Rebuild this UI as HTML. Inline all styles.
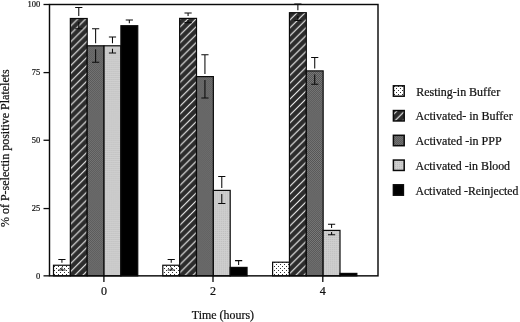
<!DOCTYPE html>
<html><head><meta charset="utf-8"><title>P-selectin positive platelets</title>
<style>
html,body{margin:0;padding:0;background:#fff;}
body{width:520px;height:322px;overflow:hidden;}
svg{display:block;}
text{font-family:"Liberation Serif","Times New Roman",serif;fill:#111;stroke:#111;stroke-width:0.22;}
</style></head><body>
<svg width="520" height="322" viewBox="0 0 520 322">
<defs>
<pattern id="dots" width="4" height="4" patternUnits="userSpaceOnUse" x="0" y="0">
<rect width="4" height="4" fill="#fff"/>
<rect x="0" y="0" width="1" height="1" fill="#333"/>
<rect x="2" y="2" width="1" height="1" fill="#333"/>
</pattern>
<pattern id="hatch0" width="7.92" height="7.92" patternUnits="userSpaceOnUse" x="0" y="1.7">
<rect width="7.92" height="7.92" fill="#2c2c2c"/>
<path d="M-1,1 L1,-1 M-1,8.92 L8.92,-1 M6.92,8.92 L8.92,6.92" stroke="#f4f4f4" stroke-width="1.1" fill="none"/>
</pattern>
<pattern id="hatch1" width="7.92" height="7.92" patternUnits="userSpaceOnUse" x="0" y="1.1">
<rect width="7.92" height="7.92" fill="#2c2c2c"/>
<path d="M-1,1 L1,-1 M-1,8.92 L8.92,-1 M6.92,8.92 L8.92,6.92" stroke="#f4f4f4" stroke-width="1.1" fill="none"/>
</pattern>
<pattern id="hatch2" width="7.92" height="7.92" patternUnits="userSpaceOnUse" x="0" y="1.0">
<rect width="7.92" height="7.92" fill="#2c2c2c"/>
<path d="M-1,1 L1,-1 M-1,8.92 L8.92,-1 M6.92,8.92 L8.92,6.92" stroke="#f4f4f4" stroke-width="1.1" fill="none"/>
</pattern>
<pattern id="hatchL" width="7.92" height="7.92" patternUnits="userSpaceOnUse" x="0" y="0.9">
<rect width="7.92" height="7.92" fill="#2c2c2c"/>
<path d="M-1,1 L1,-1 M-1,8.92 L8.92,-1 M6.92,8.92 L8.92,6.92" stroke="#f4f4f4" stroke-width="1.1" fill="none"/>
</pattern>
<pattern id="med" width="1.975" height="1.975" patternUnits="userSpaceOnUse">
<rect width="1.975" height="1.975" fill="#7c7c7c"/>
<rect width="0.9875" height="0.9875" fill="#525252"/>
<rect x="0.9875" y="0.9875" width="0.9875" height="0.9875" fill="#525252"/>
</pattern>
<pattern id="light" width="1.975" height="1.975" patternUnits="userSpaceOnUse">
<rect width="1.975" height="1.975" fill="#cfcfcf"/>
<rect width="0.9875" height="0.9875" fill="#bcbcbc"/>
</pattern>
</defs>
<rect width="520" height="322" fill="#fff"/>

<rect x="53.50" y="265.25" width="16.85" height="10.60" fill="url(#dots)" stroke="#0a0a0a" stroke-width="1.2"/>
<rect x="70.35" y="18.50" width="16.85" height="257.35" fill="url(#hatch0)" stroke="#0a0a0a" stroke-width="1.2"/>
<rect x="87.20" y="45.80" width="16.85" height="230.05" fill="url(#med)" stroke="#0a0a0a" stroke-width="1.2"/>
<rect x="104.05" y="45.80" width="16.85" height="230.05" fill="url(#light)" stroke="#0a0a0a" stroke-width="1.2"/>
<rect x="120.90" y="25.70" width="16.85" height="250.15" fill="#000" stroke="#0a0a0a" stroke-width="1.2"/>
<rect x="162.80" y="265.25" width="16.85" height="10.60" fill="url(#dots)" stroke="#0a0a0a" stroke-width="1.2"/>
<rect x="179.65" y="18.40" width="16.85" height="257.45" fill="url(#hatch1)" stroke="#0a0a0a" stroke-width="1.2"/>
<rect x="196.50" y="76.60" width="16.85" height="199.25" fill="url(#med)" stroke="#0a0a0a" stroke-width="1.2"/>
<rect x="213.35" y="190.40" width="16.85" height="85.45" fill="url(#light)" stroke="#0a0a0a" stroke-width="1.2"/>
<rect x="230.20" y="267.40" width="16.85" height="8.45" fill="#000" stroke="#0a0a0a" stroke-width="1.2"/>
<rect x="272.60" y="262.20" width="16.85" height="13.65" fill="url(#dots)" stroke="#0a0a0a" stroke-width="1.2"/>
<rect x="289.45" y="12.70" width="16.85" height="263.15" fill="url(#hatch2)" stroke="#0a0a0a" stroke-width="1.2"/>
<rect x="306.30" y="70.90" width="16.85" height="204.95" fill="url(#med)" stroke="#0a0a0a" stroke-width="1.2"/>
<rect x="323.15" y="230.40" width="16.85" height="45.45" fill="url(#light)" stroke="#0a0a0a" stroke-width="1.2"/>
<rect x="340.00" y="273.40" width="16.85" height="2.45" fill="#000" stroke="#0a0a0a" stroke-width="1.2"/>
<path d="M58.32,259.40 h7.2 M61.92,259.40 V262.75 M61.92,267.17 V270.00 M58.32,270.00 h7.2" stroke="#0a0a0a" stroke-width="1.05" fill="none"/>
<path d="M75.17,7.40 h7.2 M78.77,7.40 V16.00 M78.77,22.00 V28.80 M75.17,28.80 h7.2" stroke="#0a0a0a" stroke-width="1.05" fill="none"/>
<path d="M92.03,28.70 h7.2 M95.62,28.70 V43.30 M95.62,49.30 V62.30 M92.03,62.30 h7.2" stroke="#0a0a0a" stroke-width="1.05" fill="none"/>
<path d="M108.88,37.00 h7.2 M112.48,37.00 V43.30 M112.48,48.84 V53.00 M108.88,53.00 h7.2" stroke="#0a0a0a" stroke-width="1.05" fill="none"/>
<path d="M125.73,20.00 h7.2 M129.33,20.00 V23.20" stroke="#0a0a0a" stroke-width="1.05" fill="none"/>
<path d="M167.63,259.40 h7.2 M171.23,259.40 V262.75 M171.23,267.17 V270.00 M167.63,270.00 h7.2" stroke="#0a0a0a" stroke-width="1.05" fill="none"/>
<path d="M184.48,13.00 h7.2 M188.08,13.00 V15.90 M188.08,20.06 V22.60 M184.48,22.60 h7.2" stroke="#0a0a0a" stroke-width="1.05" fill="none"/>
<path d="M201.33,54.80 h7.2 M204.93,54.80 V74.10 M204.93,80.10 V97.90 M201.33,97.90 h7.2" stroke="#0a0a0a" stroke-width="1.05" fill="none"/>
<path d="M218.18,176.50 h7.2 M221.78,176.50 V187.90 M221.78,193.90 V203.40 M218.18,203.40 h7.2" stroke="#0a0a0a" stroke-width="1.05" fill="none"/>
<path d="M235.03,260.60 h7.2 M238.63,260.60 V264.90" stroke="#0a0a0a" stroke-width="1.05" fill="none"/>
<path d="M294.28,3.90 h7.2 M297.88,3.90 V10.20 M297.88,16.02 V20.50 M294.28,20.50 h7.2" stroke="#0a0a0a" stroke-width="1.05" fill="none"/>
<path d="M311.12,57.40 h7.2 M314.73,57.40 V68.40 M314.73,74.40 V84.30 M311.12,84.30 h7.2" stroke="#0a0a0a" stroke-width="1.05" fill="none"/>
<path d="M327.98,224.30 h7.2 M331.58,224.30 V227.90 M331.58,232.11 V234.70 M327.98,234.70 h7.2" stroke="#0a0a0a" stroke-width="1.05" fill="none"/>
<rect x="49.5" y="4.5" width="328.5" height="271.35" fill="none" stroke="#0a0a0a" stroke-width="1.45"/>
<path d="M43.5,275.85 H49.5" stroke="#0a0a0a" stroke-width="1.3"/>
<text x="36.05" y="278.65" font-size="9.2" textLength="4.25" lengthAdjust="spacingAndGlyphs">0</text>
<path d="M43.5,208.55 H49.5" stroke="#0a0a0a" stroke-width="1.3"/>
<text x="31.80" y="211.35" font-size="9.2" textLength="8.50" lengthAdjust="spacingAndGlyphs">25</text>
<path d="M43.5,140.25 H49.5" stroke="#0a0a0a" stroke-width="1.3"/>
<text x="31.80" y="143.05" font-size="9.2" textLength="8.50" lengthAdjust="spacingAndGlyphs">50</text>
<path d="M43.5,72.60 H49.5" stroke="#0a0a0a" stroke-width="1.3"/>
<text x="31.80" y="75.40" font-size="9.2" textLength="8.50" lengthAdjust="spacingAndGlyphs">75</text>
<path d="M43.5,4.50 H49.5" stroke="#0a0a0a" stroke-width="1.3"/>
<text x="27.55" y="7.30" font-size="9.2" textLength="12.75" lengthAdjust="spacingAndGlyphs">100</text>
<path d="M103.9,275.85 V282" stroke="#0a0a0a" stroke-width="1.3"/>
<text x="103.9" y="295" font-size="12" text-anchor="middle">0</text>
<path d="M213.0,275.85 V282" stroke="#0a0a0a" stroke-width="1.3"/>
<text x="213.0" y="295" font-size="12" text-anchor="middle">2</text>
<path d="M322.8,275.85 V282" stroke="#0a0a0a" stroke-width="1.3"/>
<text x="322.8" y="295" font-size="12" text-anchor="middle">4</text>
<text x="191.8" y="319.4" font-size="12" textLength="62.2" lengthAdjust="spacingAndGlyphs">Time (hours)</text>
<text transform="translate(9.2,227.0) rotate(-90)" font-size="12" textLength="157.7" lengthAdjust="spacingAndGlyphs">% of P-selectin positive Platelets</text>
<rect x="393.4" y="85.80" width="10.8" height="10.4" fill="url(#dots)" stroke="#0a0a0a" stroke-width="1.5"/>
<text x="416.2" y="95.50" font-size="12" textLength="84.0" lengthAdjust="spacingAndGlyphs">Resting-in Buffer</text>
<rect x="393.4" y="110.55" width="10.8" height="10.4" fill="url(#hatchL)" stroke="#0a0a0a" stroke-width="1.5"/>
<text x="415.4" y="120.25" font-size="12" textLength="97.3" lengthAdjust="spacingAndGlyphs">Activated- in Buffer</text>
<rect x="393.4" y="135.30" width="10.8" height="10.4" fill="url(#med)" stroke="#0a0a0a" stroke-width="1.5"/>
<text x="415.4" y="145.00" font-size="12" textLength="86.2" lengthAdjust="spacingAndGlyphs">Activated -in PPP</text>
<rect x="393.4" y="160.05" width="10.8" height="10.4" fill="url(#light)" stroke="#0a0a0a" stroke-width="1.5"/>
<text x="415.4" y="169.75" font-size="12" textLength="94.7" lengthAdjust="spacingAndGlyphs">Activated -in Blood</text>
<rect x="393.4" y="184.80" width="10.0" height="10.4" fill="#000" stroke="#0a0a0a" stroke-width="1.5"/>
<text x="415.4" y="194.50" font-size="12" textLength="102.9" lengthAdjust="spacingAndGlyphs">Activated -Reinjected</text>
</svg></body></html>
